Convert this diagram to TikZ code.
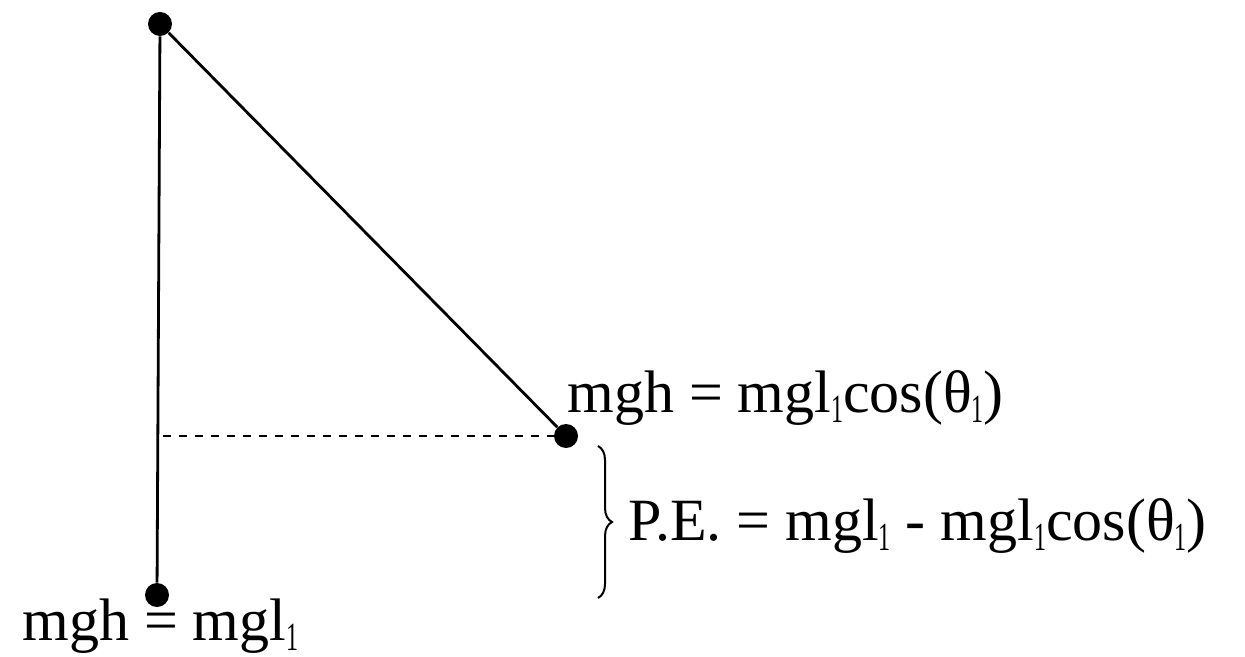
\documentclass[tikz,border=0pt]{standalone}
\usepackage{graphicx}
\usepackage{fontspec}
\setmainfont{Liberation Serif}
\usetikzlibrary{decorations.pathreplacing}
\tikzset{
  bob/.style={circle,fill=black,inner sep=0pt,minimum size=12pt},
  rod/.style={line width=1.4pt},
  level/.style={line width=1.2pt,dash pattern=on 4pt off 4pt},
  curly/.style={line width=1pt,decorate,decoration={brace,amplitude=7pt}},
  eqn/.style={anchor=base west,inner sep=0pt,font=\fontsize{30}{34}\selectfont},
}
\newcommand{\sub}[1]{\raisebox{-5pt}{\scalebox{0.6}[1]{\fontsize{20}{20}\selectfont #1}}}

\begin{document}
\begin{tikzpicture}[x=0.5pt,y=-0.5pt]
  \useasboundingbox (0,0) rectangle (1245,657);
  % pendulum
  \node[bob] (pivot) at (160,24) {};
  \node[bob] (low) at (157,595) {};
  \node[bob] (high) at (566,436) {};
  \coordinate (foot) at (163,436);
  \draw[rod] (pivot) -- (low);
  \draw[rod] (pivot) -- (high);
  \draw[level] (foot) -- (high);
  % height difference
  \coordinate (btop) at (598,446);
  \coordinate (bbot) at (598,598);
  \draw[curly] (btop) -- (bbot);
  \node[eqn] (hightxt) at (567,412) {mgh = mgl\sub{1}cos(θ\sub{1})};
  \node[eqn] (petxt) at (628,540) {P.E. = mgl\sub{1} - mgl\sub{1}cos(θ\sub{1})};
  \node[eqn] (lowtxt) at (22,640) {mgh = mgl\sub{1}};
\end{tikzpicture}
\end{document}
